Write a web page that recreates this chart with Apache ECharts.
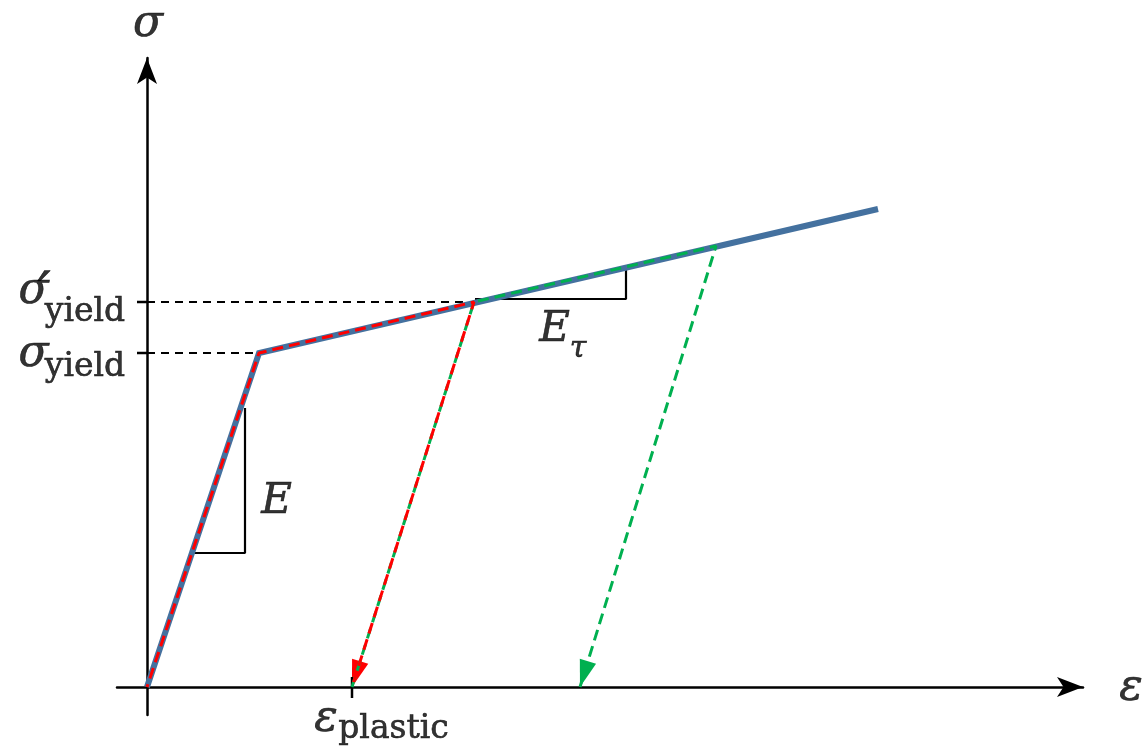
<!DOCTYPE html>
<html><head><meta charset="utf-8">
<script src="https://cdn.jsdelivr.net/npm/echarts@6/dist/echarts.min.js"></script>
<style>html,body{margin:0;padding:0;background:#fff}#c{width:1144px;height:752px}</style>
</head><body><div id="c"></div>
<script>
// ---- data (strain / stress in arbitrary units) ----
const strainRange = [-30, 936];
const stressRange = [-28, 629];
const sigmaYield = 334;
const sigmaYieldPrime = 385;
const epsYield = 112;
const epsPlastic = 205;
const hardeningCurve = [[0, 0], [112, 334], [731, 478]];
const firstLoadPath = [[0, 0], [112, 334], [327, 385], [205, 0]];
const reloadPath = [[205, 0], [327, 385], [569, 441], [433, 0]];
const guideYield = [[0, 334], [112, 334]];
const guideYieldPrime = [[0, 385], [327, 385]];
const slopeE = [[98, 279], [98, 134], [46, 134]];
const slopeEt = [[328, 388], [479, 388], [479, 418]];
const yTickValues = [sigmaYield, sigmaYieldPrime];
const xTickValues = [epsPlastic];

const chart = echarts.init(document.getElementById('c'), null, {renderer: 'canvas'});

const ink = {color: '#000', textBorderColor: '#000', textBorderWidth: 0.6};
const italic = Object.assign({fontFamily: 'DejaVu Serif', fontStyle: 'italic', fontSize: 44}, ink);
const upright = Object.assign({fontFamily: 'DejaVu Serif', fontStyle: 'normal', fontSize: 33}, ink);
function lab(pt, text, style, offset) {
  return {value: pt, label: Object.assign({show: true, formatter: text, offset: offset}, style)};
}

const last2 = p => [p[p.length - 2][0], p[p.length - 2][1], p[p.length - 1][0], p[p.length - 1][1]];

const axisCommon = {
  axisLine: {onZero: true, lineStyle: {color: '#000', width: 2.5}, symbol: ['none', 'arrow'], symbolSize: [15, 26]},
  axisTick: {show: false}, axisLabel: {show: false}, splitLine: {show: false}
};

const option = {
  animation: false,
  backgroundColor: '#fff',
  textStyle: {color: '#000'},
  grid: {left: 117, right: 61, top: 58, bottom: 37},
  xAxis: Object.assign({type: 'value', min: strainRange[0], max: strainRange[1]}, axisCommon),
  yAxis: Object.assign({type: 'value', min: stressRange[0], max: stressRange[1]}, axisCommon),
  series: [
    {type: 'line', data: guideYield, symbol: 'none', lineStyle: {color: '#000', width: 2, type: [8, 6]}, silent: true},
    {type: 'line', data: guideYieldPrime, symbol: 'none', lineStyle: {color: '#000', width: 2, type: [8, 6]}, silent: true},
    {type: 'line', data: slopeE, symbol: 'none', lineStyle: {color: '#000', width: 2.2}, silent: true},
    {type: 'line', data: slopeEt, symbol: 'none', lineStyle: {color: '#000', width: 2.2}, silent: true},
    {type: 'line', data: hardeningCurve, symbol: 'none', lineStyle: {color: '#44719f', width: 6, cap: 'butt', join: 'miter'}, silent: true},
    {type: 'line', data: reloadPath, symbol: 'none', lineStyle: {color: '#00b050', width: 3, type: [11, 6]}, silent: true},
    {type: 'line', data: firstLoadPath, symbol: 'none', lineStyle: {color: '#ff0000', width: 3, type: [11, 6], dashOffset: 8}, silent: true},
    {
      type: 'custom', silent: true,
      data: [
        {value: last2(reloadPath), itemStyle: {color: '#00b050'}},
        {value: last2(firstLoadPath), itemStyle: {color: '#ff0000'}}
      ],
      renderItem: function (params, api) {
        const p0 = api.coord([api.value(0), api.value(1)]);
        const p1 = api.coord([api.value(2), api.value(3)]);
        const dx = p1[0] - p0[0], dy = p1[1] - p0[1];
        const L = Math.hypot(dx, dy);
        const ux = dx / L, uy = dy / L, len = 27, hw = 8.5;
        const bx = p1[0] - ux * len, by = p1[1] - uy * len;
        return {type: 'polygon', shape: {points: [[p1[0], p1[1]], [bx - uy * hw, by + ux * hw], [bx + uy * hw, by - ux * hw]]}, style: {fill: api.visual('color')}};
      }
    },
    {
      type: 'custom', silent: true,
      data: yTickValues.map(v => [v, 0]).concat(xTickValues.map(v => [v, 1])),
      renderItem: function (params, api) {
        const v = api.value(0), kind = api.value(1);
        if (kind === 0) {
          const p = api.coord([0, v]);
          return {type: 'line', shape: {x1: p[0] - 10, y1: p[1], x2: p[0], y2: p[1]}, style: {stroke: '#000', lineWidth: 2.5}};
        }
        const p = api.coord([v, 0]);
        return {type: 'line', shape: {x1: p[0], y1: p[1] - 10, x2: p[0], y2: p[1] + 11}, style: {stroke: '#000', lineWidth: 2.5}};
      }
    },
    {
      type: 'scatter', silent: true, symbol: 'circle', symbolSize: 1, itemStyle: {color: 'rgba(0,0,0,0)'},
      label: {show: true, position: 'inside', align: 'center', verticalAlign: 'middle', color: '#000'},
      data: [
        lab([0, stressRange[1]], 'σ', italic, [1, -33]),
        lab([strainRange[1], 0], 'ε', italic, [48, 2]),
        lab([0, sigmaYieldPrime], 'σ', italic, [-113.5, -10]),
        lab([0, sigmaYieldPrime], '′', Object.assign({}, italic, {fontSize: 58}), [-103, -4]),
        lab([0, sigmaYieldPrime], 'yield', upright, [-62, 10]),
        lab([0, sigmaYield], 'σ', italic, [-113.5, 2]),
        lab([0, sigmaYield], 'yield', upright, [-62, 14]),
        lab([epsPlastic, 0], 'ε', italic, [-26, 33]),
        lab([epsPlastic, 0], 'plastic', upright, [41.5, 42]),
        lab(slopeE[1], 'E', Object.assign({}, italic, {fontSize: 42}), [31.5, -51]),
        lab(slopeEt[0], 'E', Object.assign({}, italic, {fontSize: 42}), [79.5, 31]),
        lab(slopeEt[0], 'τ', Object.assign({}, italic, {fontSize: 30}), [103, 50])
      ]
    }
  ]
};
chart.setOption(option);
</script>
</body></html>
